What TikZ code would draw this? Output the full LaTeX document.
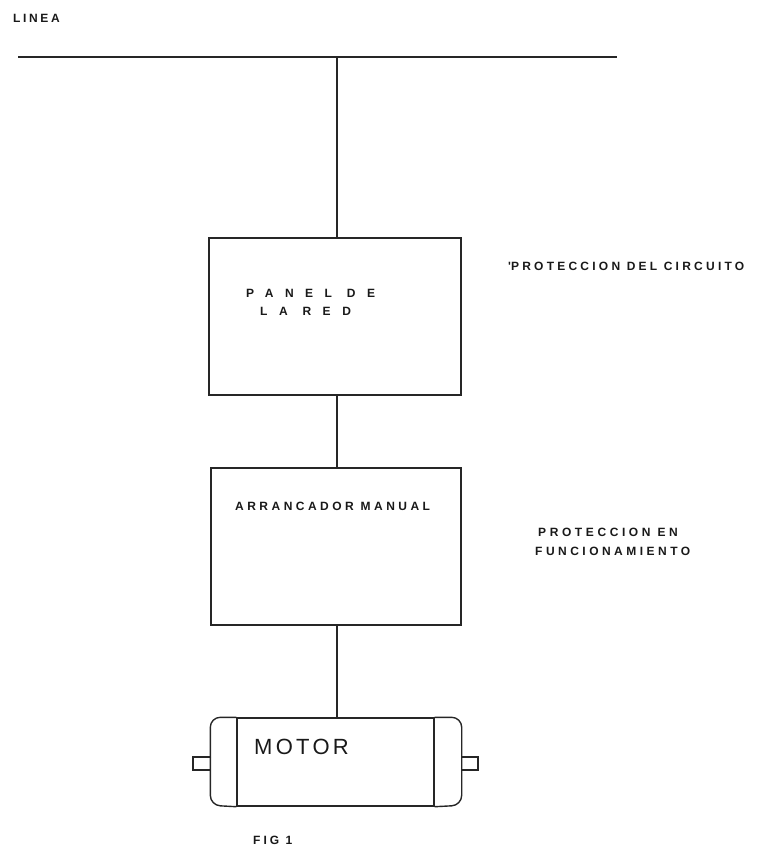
\documentclass[tikz,border=0pt]{standalone}
\usepackage{fontspec}
\setmainfont{Liberation Sans}
\begin{document}
\begin{tikzpicture}[x=1pt,y=-1pt,
  wire/.style={line width=1.4pt,draw=black!85},
  blockbox/.style={wire,draw,rectangle,inner sep=0pt},
  lbl/.style={inner sep=0pt,anchor=west,text=black!90}]
\useasboundingbox (0,0) rectangle (759,849);
% line
\coordinate (la) at (18,57);
\coordinate (lb) at (617,57);
\coordinate (tap) at (337,57);
\draw[wire] (la) -- (lb);
\node[lbl,font=\bfseries\fontsize{12}{13}\selectfont\addfontfeature{LetterSpace=22}] (linea) at (13,18) {LINEA};
% panel
\node[blockbox,minimum width=252pt,minimum height=157pt] (panel) at (335,316.5) {};
\node[lbl,font=\bfseries\fontsize{12}{13}\selectfont\addfontfeature{LetterSpace=96}] (panelt1) at (246,293) {PANEL DE};
\node[lbl,font=\bfseries\fontsize{12}{13}\selectfont\addfontfeature{LetterSpace=96}] (panelt2) at (260,311) {LA RED};
\draw[wire] (tap) -- (tap |- panel.north);
% arrancador
\node[blockbox,minimum width=250pt,minimum height=157pt] (arr) at (336,546.5) {};
\node[lbl,font=\bfseries\fontsize{12}{13}\selectfont\addfontfeature{LetterSpace=29}] (arrt) at (235,506) {ARRANCADOR MANUAL};
\draw[wire] (tap |- panel.south) -- (tap |- arr.north);
% side labels
\node[lbl,font=\bfseries\fontsize{12}{13}\selectfont\addfontfeature{LetterSpace=27}] (prot1) at (508,266) {\textquotesingle PROTECCION DEL CIRCUITO};
\node[lbl,font=\bfseries\fontsize{12}{13}\selectfont\addfontfeature{LetterSpace=30}] (prot2) at (538,532) {PROTECCION EN};
\node[lbl,font=\bfseries\fontsize{12}{13}\selectfont\addfontfeature{LetterSpace=29}] (prot3) at (535,551) {FUNCIONAMIENTO};
% motor
\node[blockbox,minimum width=197pt,minimum height=88pt] (motor) at (335.5,762) {};
\draw[wire] (tap |- arr.south) -- (tap |- motor.north);
\draw[wire,rounded corners=10pt] (motor.north west) -- ++(-26,0) -- ++(0,88) -- (motor.south west);
\draw[wire,rounded corners=10pt] (motor.north east) -- ++(27,0) -- ++(0,88) -- (motor.south east);
\draw[wire] (211,757) -- (193,757) -- (193,770) -- (211,770);
\draw[wire] (462,757) -- (478,757) -- (478,770) -- (462,770);
\node[lbl,font=\fontsize{22}{23}\selectfont\addfontfeature{LetterSpace=15}] (motort) at (254,747) {MOTOR};
\node[lbl,font=\bfseries\fontsize{12}{13}\selectfont\addfontfeature{LetterSpace=25}] (fig) at (253,840) {FIG 1};
\end{tikzpicture}
\end{document}
